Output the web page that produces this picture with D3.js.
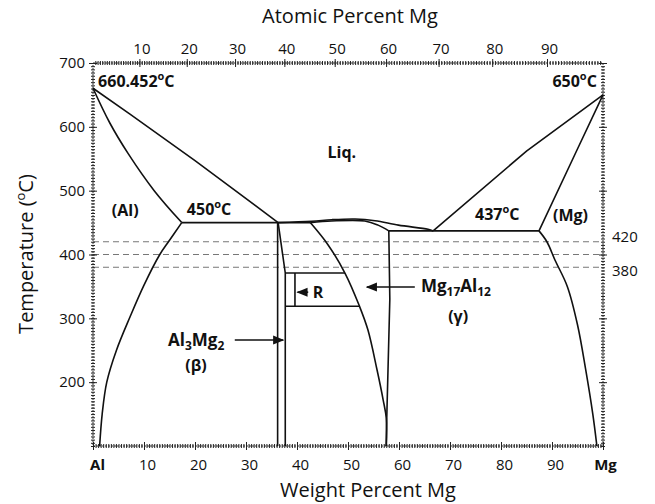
<!DOCTYPE html>
<html>
<head>
<meta charset="utf-8">
<script src="https://cdn.jsdelivr.net/npm/d3@7"></script>
<style>
body { margin: 0; background: #fff; }
svg text { font-family: "Open Sans", sans-serif; fill: #111; }
.tick line { stroke: #222; }
.domain { display: none; }
</style>
</head>
<body>
<div id="chart"></div>
<script>
var margin = {top: 63, right: 52, bottom: 58, left: 93},
    width = 655 - margin.left - margin.right,
    height = 504 - margin.top - margin.bottom;

// axis ticks
var wtTicks = [0, 10, 20, 30, 40, 50, 60, 70, 80, 90, 100];
var wtLabels = ["Al", "10", "20", "30", "40", "50", "60", "70", "80", "90", "Mg"];
var atTicks = [10, 20, 30, 40, 50, 60, 70, 80, 90];
var tempTicks = [200, 300, 400, 500, 600, 700];
var refTemps = [420, 400, 380];

// phase boundaries, [wt% Mg, temperature C]
var alLiquidus = [[0, 660.452], [7.25, 620], [20, 547], [36.3, 450]];
var alSolidus = [[0, 660.452], [3.3, 606], [6.9, 558], [12, 500], [17.4, 450]];
var alSolvus = [[17.4, 450], [14.8, 420], [13.1, 400], [10, 352], [7.25, 302], [4.6, 250], [2.7, 200], [1.8, 150], [1.3, 100]];
var eutectic450 = [[17.4, 450], [42.6, 450]];
var betaLeft = [[36.2, 450], [36.2, 100]];
var betaRight = [[36.3, 450], [37.7, 371], [37.7, 100]];
var domeLiquidus = [[36.3, 450], [42.9, 452], [46.8, 454.5], [51.4, 455.6], [55.3, 453], [59.9, 446], [65.7, 439.5], [66.7, 437]];
var gammaSolidus = [[42.6, 450], [46.8, 452.5], [53.3, 452.5], [55.9, 446], [58, 437]];
var gammaLeft = [[42.6, 450], [46.1, 415], [49.4, 371], [52.2, 320], [53.9, 282], [55.7, 219], [56.9, 172], [57.5, 144], [57.5, 100]];
var gammaRight = [[58, 437], [58.2, 330], [57.6, 144], [57.5, 100]];
var eutectic437 = [[58, 437], [87.45, 437]];
var mgLiquidus = [[66.7, 437], [85, 562], [100, 650]];
var mgSolidus = [[87.45, 437], [94.9, 563.7], [100, 650]];
var mgSolvus = [[87.45, 437], [89, 420], [90.6, 391], [93, 350], [95, 290], [96.6, 220], [98, 150], [98.8, 100]];
var boxTop = [[37.7, 371], [49.4, 371]];
var boxBottom = [[37.7, 319], [52.2, 319]];
var boxInner = [[39.6, 371], [39.6, 319]];

var straight = [alLiquidus, eutectic450, betaLeft, betaRight, gammaRight, eutectic437,
                mgLiquidus, mgSolidus, boxTop, boxBottom, boxInner];
var curved = [alSolidus, alSolvus, domeLiquidus, gammaSolidus, gammaLeft, mgSolvus];

function atToWt(a) {
  var m = a * 24.305, al = (100 - a) * 26.982;
  return 100 * m / (m + al);
}

var x = d3.scaleLinear().domain([0, 100]).range([0, width]);
var y = d3.scaleLinear().domain([100, 700]).range([height, 0]);

var svg = d3.select("#chart").append("svg")
    .attr("width", width + margin.left + margin.right)
    .attr("height", height + margin.top + margin.bottom);
var g = svg.append("g")
    .attr("transform", "translate(" + margin.left + "," + margin.top + ")");

// reference dashed lines
g.selectAll(".ref")
    .data(refTemps)
  .enter().append("line")
    .attr("class", "ref")
    .attr("x1", 0).attr("x2", width)
    .attr("y1", function(d) { return y(d); })
    .attr("y2", function(d) { return y(d); })
    .attr("stroke", "#777")
    .attr("stroke-width", 1.2)
    .attr("stroke-dasharray", "6,4");

// frame
g.append("rect")
    .attr("width", width).attr("height", height)
    .attr("fill", "none").attr("stroke", "#333").attr("stroke-width", 1)
    .attr("stroke-dasharray", "2,1");

function minor(axis, vals, size) {
  return axis.tickValues(vals).tickSize(size).tickFormat("");
}

var wtMinor = d3.range(0, 100.1, 0.5);
var atMinor = d3.range(0.5, 100, 0.5).map(atToWt);
var tMinor = d3.range(100, 700.1, 5);

[2, -2].forEach(function(s) {
  g.append("g").attr("transform", "translate(0," + height + ")").call(minor(d3.axisBottom(x), wtMinor, s));
  g.append("g").call(minor(d3.axisTop(x), atMinor, s));
  g.append("g").call(minor(d3.axisLeft(y), tMinor, s));
  g.append("g").attr("transform", "translate(" + width + ",0)").call(minor(d3.axisRight(y), tMinor, s));
});
[4, -4].forEach(function(s) {
  g.append("g").attr("transform", "translate(0," + height + ")").call(minor(d3.axisBottom(x), wtTicks, s));
  g.append("g").call(minor(d3.axisTop(x), atTicks.map(atToWt), s));
  g.append("g").call(minor(d3.axisLeft(y), tempTicks, s));
  g.append("g").attr("transform", "translate(" + width + ",0)").call(minor(d3.axisRight(y), tempTicks, s));
});

// labelled axes
var xAxis = d3.axisBottom(x).tickValues(wtTicks).tickSize(0).tickPadding(13)
    .tickFormat(function(d, i) { return wtLabels[i]; });
var bx = g.append("g").attr("transform", "translate(0," + height + ")").call(xAxis);
bx.selectAll("text").style("font-size", "15px")
    .style("font-weight", function(d) { return (d === 0 || d === 100) ? "bold" : "normal"; })
    .attr("dx", function(d) { return d === 0 ? "4" : (d === 100 ? "2" : "3"); });

var topAxis = d3.axisTop(x).tickValues(atTicks.map(atToWt)).tickSize(0).tickPadding(9)
    .tickFormat(function(d, i) { return atTicks[i]; });
g.append("g").call(topAxis).selectAll("text").style("font-size", "15px").attr("dx", "2");

var yAxis = d3.axisLeft(y).tickValues(tempTicks).tickSize(0).tickPadding(8);
g.append("g").call(yAxis).selectAll("text").style("font-size", "15px");

g.append("text").attr("x", width + 9).attr("y", y(420)).attr("dy", "0.05em")
    .style("font-size", "15px").text("420");
g.append("text").attr("x", width + 9).attr("y", y(380)).attr("dy", "0.55em")
    .style("font-size", "15px").text("380");

// phase boundaries
var line = d3.line().x(function(d) { return x(d[0]); }).y(function(d) { return y(d[1]); });
var curve = d3.line().x(function(d) { return x(d[0]); }).y(function(d) { return y(d[1]); })
    .curve(d3.curveCatmullRom.alpha(0.5));

g.selectAll(".straight").data(straight).enter().append("path")
    .attr("d", line).attr("fill", "none").attr("stroke", "#111").attr("stroke-width", 1.6);
g.selectAll(".curved").data(curved).enter().append("path")
    .attr("d", curve).attr("fill", "none").attr("stroke", "#111").attr("stroke-width", 1.6);

// annotations
function degText(wx, t, txt, anchor) {
  var el = g.append("text").attr("x", x(wx)).attr("y", y(t))
      .style("font-size", "16px").style("font-weight", "bold")
      .attr("text-anchor", anchor || "start");
  el.append("tspan").text(txt);
  el.append("tspan").attr("dy", "-7").style("font-size", "11px").text("o");
  el.append("tspan").attr("dy", "7").text("C");
}
degText(1.0, 662, "660.452");
degText(98.8, 662, "650", "end");
degText(18.4, 462, "450");
degText(74.9, 454, "437");

function bold(wx, t, txt, anchor) {
  return g.append("text").attr("x", x(wx)).attr("y", y(t))
      .attr("text-anchor", anchor || "start")
      .style("font-size", "16px").style("font-weight", "bold").text(txt);
}
bold(48.8, 551, "Liq.", "middle");
bold(3.7, 460, "(Al)");
bold(90.2, 452, "(Mg)");
bold(20.2, 217, "(\u03b2)", "middle");
bold(71.6, 294, "(\u03b3)", "middle");
bold(43.1, 332, "R");

function subText(wx, t, parts) {
  var el = g.append("text").attr("x", x(wx)).attr("y", y(t))
      .style("font-size", "17px").style("font-weight", "bold");
  parts.forEach(function(p, i) {
    var ts = el.append("tspan").text(p);
    if (i % 2 === 1) ts.attr("dy", "4").style("font-size", "12px");
    else if (i > 0) ts.attr("dy", "-4");
  });
}
subText(64.3, 341, ["Mg", "17", "Al", "12"]);
subText(14.7, 257, ["Al", "3", "Mg", "2"]);

svg.append("defs").append("marker")
    .attr("id", "arr").attr("viewBox", "0 0 10 10").attr("refX", 9).attr("refY", 5)
    .attr("markerWidth", 7).attr("markerHeight", 7).attr("orient", "auto")
  .append("path").attr("d", "M0,1L10,5L0,9Z").attr("fill", "#111");

function arrow(w1, w2, t) {
  g.append("line").attr("x1", x(w1)).attr("x2", x(w2)).attr("y1", y(t)).attr("y2", y(t))
      .attr("stroke", "#111").attr("stroke-width", 1.6).attr("marker-end", "url(#arr)");
}
arrow(63.1, 53.7, 349);
arrow(27.8, 37.3, 266);
arrow(42.2, 40.1, 341);

// axis titles
svg.append("text").attr("x", 350).attr("y", 23).attr("text-anchor", "middle")
    .style("font-size", "20px").text("Atomic Percent Mg");
svg.append("text").attr("x", 368).attr("y", 497).attr("text-anchor", "middle")
    .style("font-size", "20px").text("Weight Percent Mg");
var yt = svg.append("text").attr("transform", "translate(33,254) rotate(-90)")
    .attr("text-anchor", "middle").style("font-size", "20px");
yt.append("tspan").text("Temperature (");
yt.append("tspan").attr("dy", "-8").style("font-size", "13px").text("o");
yt.append("tspan").attr("dy", "8").text("C)");
</script>
</body>
</html>
